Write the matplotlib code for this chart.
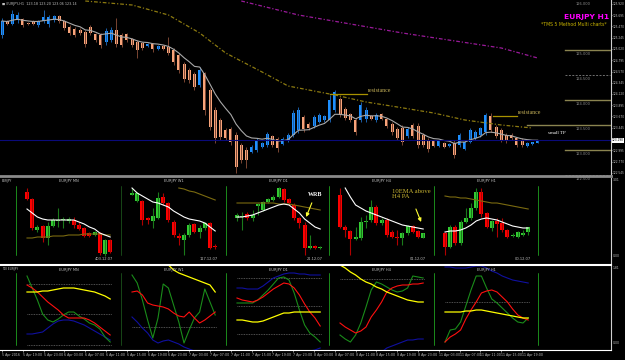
import numpy as np
import pandas as pd
import matplotlib
matplotlib.use("Agg")
import matplotlib.pyplot as plt

W, H = 625, 360

# ---------------- main EURJPY H1 chart ----------------
opens = [125.30, 125.58, 125.52, 125.60, 125.62, 125.54, 125.58, 125.50, 125.58, 125.52,
         125.60, 125.68, 125.58, 125.46, 125.42, 125.40, 125.36, 125.46, 125.32, 125.30,
         125.16, 125.20, 125.40, 125.30, 125.32, 125.22, 125.16, 125.14, 125.08, 125.12,
         125.02, 125.08, 125.06, 125.00, 124.90, 124.72, 124.60, 124.52, 124.30, 124.54,
         124.20, 123.80, 123.60, 123.40, 123.42, 123.30, 123.10, 123.00, 122.96, 123.00,
         123.06, 123.10, 123.28, 123.22, 123.12, 123.20, 123.30, 123.40, 123.66, 123.52,
         123.48, 123.56, 123.60, 123.60, 123.80, 124.02, 123.82, 123.72, 123.60, 123.60,
         123.62, 123.68, 123.60, 123.72, 123.62, 123.52, 123.42, 123.44, 123.28, 123.50,
         123.48, 123.30, 123.20, 123.18, 123.08, 123.14, 123.08, 123.14, 123.10, 123.02,
         123.16, 123.24, 123.30, 123.36, 123.68, 123.46, 123.40, 123.30, 123.30, 123.24,
         123.20, 123.08, 123.11, 123.14]
highs = [125.64, 125.60, 125.80, 125.76, 125.64, 125.56, 125.60, 125.60, 125.80, 125.70,
         125.70, 125.70, 125.60, 125.50, 125.46, 125.44, 125.40, 125.50, 125.34, 125.34,
         125.44, 125.46, 125.64, 125.34, 125.34, 125.24, 125.20, 125.16, 125.14, 125.14,
         125.10, 125.10, 125.26, 125.04, 124.94, 124.76, 124.64, 124.56, 124.66, 124.56,
         124.24, 123.86, 123.64, 123.44, 123.46, 123.36, 123.14, 123.06, 123.10, 123.24,
         123.16, 123.36, 123.30, 123.26, 123.26, 123.34, 123.80, 123.86, 123.70, 123.56,
         123.70, 123.74, 123.70, 124.10, 124.20, 124.06, 123.86, 123.74, 123.64, 123.96,
         123.86, 123.70, 123.74, 123.74, 123.64, 123.56, 123.46, 123.50, 123.46, 123.54,
         123.54, 123.34, 123.24, 123.20, 123.20, 123.16, 123.14, 123.20, 123.34, 123.20,
         123.44, 123.40, 123.46, 123.74, 123.74, 123.50, 123.44, 123.34, 123.34, 123.26,
         123.24, 123.16, 123.16, 123.20]
lows = [125.24, 125.50, 125.50, 125.54, 125.46, 125.50, 125.50, 125.46, 125.54, 125.46,
        125.56, 125.54, 125.40, 125.30, 125.26, 125.30, 125.06, 125.30, 125.16, 125.04,
        125.10, 125.16, 125.06, 125.06, 125.16, 125.06, 124.84, 125.00, 125.06, 124.96,
        125.00, 125.00, 124.90, 124.70, 124.54, 124.36, 124.34, 124.20, 124.26, 123.70,
        123.40, 123.14, 123.20, 123.20, 123.10, 122.54, 122.74, 122.64, 122.94, 122.96,
        123.04, 123.06, 123.06, 122.96, 123.10, 123.16, 123.26, 123.34, 123.36, 123.40,
        123.44, 123.54, 123.56, 123.56, 123.76, 123.66, 123.60, 123.56, 123.30, 123.56,
        123.56, 123.60, 123.56, 123.60, 123.44, 123.30, 123.20, 123.10, 123.24, 123.24,
        123.04, 123.06, 122.96, 123.06, 123.06, 123.04, 123.06, 122.84, 123.06, 123.00,
        123.14, 123.20, 123.26, 123.30, 123.36, 123.24, 123.16, 123.14, 123.20, 123.06,
        123.06, 123.06, 123.10, 123.14]
closes = [125.58, 125.52, 125.72, 125.70, 125.50, 125.52, 125.52, 125.58, 125.66, 125.66,
          125.68, 125.58, 125.44, 125.34, 125.30, 125.34, 125.12, 125.34, 125.20, 125.10,
          125.38, 125.40, 125.12, 125.10, 125.20, 125.10, 125.00, 125.04, 125.12, 125.02,
          125.08, 125.02, 124.94, 124.76, 124.60, 124.42, 124.40, 124.26, 124.60, 123.80,
          123.46, 123.24, 123.26, 123.24, 123.16, 122.66, 122.80, 122.80, 123.06, 123.20,
          123.14, 123.32, 123.10, 123.04, 123.22, 123.30, 123.74, 123.80, 123.42, 123.44,
          123.66, 123.70, 123.68, 124.00, 124.16, 123.70, 123.64, 123.60, 123.36, 123.90,
          123.80, 123.62, 123.70, 123.62, 123.48, 123.36, 123.24, 123.16, 123.42, 123.28,
          123.10, 123.10, 123.02, 123.08, 123.18, 123.06, 123.12, 122.90, 123.30, 123.16,
          123.40, 123.36, 123.44, 123.70, 123.40, 123.28, 123.20, 123.18, 123.24, 123.10,
          123.10, 123.14, 123.15, 123.19]

ema50_x = [16, 25, 32, 38, 43, 50, 55, 64, 70, 76, 83, 89, 96, 102]
ema50_y = [125.98, 125.90, 125.70, 125.34, 124.94, 124.56, 124.28, 124.10, 123.96,
           123.86, 123.74, 123.60, 123.50, 123.44]
ema200_x = [46, 57, 77, 96, 103]
ema200_y = [125.98, 125.70, 125.34, 125.04, 124.84]

level_prices = [126.0, 125.0, 124.5, 124.0, 123.5, 123.0, 122.5]
level_solid = [None, True, False, True, True, True, False]
price_ticks = [125.920, 125.695, 125.470, 125.245, 125.020, 124.795, 124.570, 124.345,
               124.120, 123.895, 123.670, 123.445, 122.995, 122.770, 122.545]
time_labels = ["5 Apr 2016", "5 Apr 19:00", "5 Apr 23:00", "6 Apr 03:00", "6 Apr 07:00",
               "6 Apr 11:00", "6 Apr 15:00", "6 Apr 19:00", "6 Apr 23:00", "7 Apr 03:00",
               "7 Apr 07:00", "7 Apr 11:00", "7 Apr 15:00", "7 Apr 19:00", "7 Apr 23:00",
               "8 Apr 03:00", "8 Apr 07:00", "8 Apr 11:00", "8 Apr 15:00", "8 Apr 19:00",
               "8 Apr 23:00", "11 Apr 03:00", "11 Apr 07:00", "11 Apr 11:00", "11 Apr 15:00",
               "11 Apr 19:00"]

# ---------------- multi timeframe candles (o, h, l, c) ----------------
tf_names = ["EURJPY MN", "EURJPY W1", "EURJPY D1", "EURJPY H4", "EURJPY H1"]
tf_dates = ["403.12.07", "117.12.07", "21.12.07", "01.12.07", "00.12.07"]
mn_candles = [(73, 77, 65, 66), (66, 67, 35, 37), (35, 40, 33, 38), (39, 40, 23, 27), (27, 43, 20, 39),
              (39, 47, 38, 45), (44, 57, 38, 45), (45, 48, 37, 45), (44, 48, 42, 46), (45, 48, 37, 40),
              (40, 43, 35, 36), (37, 38, 28, 29), (32, 33, 28, 29), (30, 34, 29, 33), (32, 33, 10, 12),
              (11, 26, 9, 25), (25, 26, 12, 13)]
w1_candles = [(70, 77, 70, 72), (64, 73, 63, 72), (64, 65, 40, 45), (47, 48, 41, 45), (44, 57, 37, 49),
              (47, 73, 46, 67), (68, 72, 60, 62), (62, 63, 43, 45), (43, 45, 28, 30), (29, 32, 20, 27),
              (25, 32, 10, 30), (30, 42, 28, 40), (41, 42, 32, 33), (33, 40, 27, 37), (37, 43, 35, 42),
              (42, 43, 16, 17), (19, 21, 16, 18)]
d1_candles = [(47, 52, 44, 50), (48, 53, 35, 49), (51, 53, 45, 47), (47, 55, 44, 50), (59, 62, 50, 61),
              (55, 64, 54, 63), (63, 67, 62, 66), (65, 70, 64, 68), (68, 78, 67, 77), (76, 77, 63, 65),
              (66, 67, 60, 62), (60, 62, 45, 47), (47, 48, 37, 42), (40, 43, 10, 17), (17, 30, 16, 19),
              (19, 20, 16, 17), (17, 19, 16, 18)]
h4_candles = [(70, 77, 37, 38), (38, 40, 28, 35), (34, 35, 10, 26), (26, 38, 25, 28), (27, 48, 25, 43),
              (43, 50, 37, 44), (45, 65, 43, 58), (58, 60, 40, 42), (42, 47, 40, 45), (45, 47, 28, 30),
              (33, 35, 27, 28), (28, 35, 20, 27), (27, 33, 20, 32), (32, 40, 30, 39), (39, 40, 32, 33),
              (34, 35, 27, 28), (27, 32, 27, 32)]
h1_candles = [(32, 33, 10, 18), (18, 40, 17, 38), (38, 40, 20, 22), (22, 45, 20, 43), (43, 57, 42, 47),
              (47, 62, 45, 57), (57, 77, 55, 73), (73, 77, 48, 51), (52, 53, 37, 38), (37, 45, 34, 44),
              (44, 47, 28, 41), (42, 47, 33, 35), (35, 36, 27, 28), (29, 32, 28, 30), (28, 34, 27, 33),
              (30, 35, 29, 32), (33, 38, 30, 38)]
nan = np.nan
mn_ema = [56, 52, 48, 46, 45, 45, 45, 45, 45, 45, 43, 41, 38, 36, 32, 30, 28]
w1_ema = [77, 72, 69, 66, 63, 62, 60, 58, 54, 51, 48, 46, 45, 44, 42, 38, 34]
d1_ema = [48, 48, 49, 50, 52, 54, 56, 58, 60, 61, 60, 56, 52, 46, 42, 38, 36]
h4_ema = [nan, 77, 68, 60, 57, 54, 52, 50, 48, 46, 44, 42, 40, 39, 38, 37, 36]
h1_ema = [33, 34, 34, 35, 37, 40, 44, 46, 47, 46, 45, 43, 41, 39, 38, 37, 37]
mn_slow = [27, 27, 28, 28, 28, 29, 29, 29, 30, 30, 30, 31, 31, 31, 31, 30, 30]
w1_slow = [nan] * 9 + [77, 76, 74, 73, 71, 69, 67, 65]
d1_slow = [62, 62, 62, 62, 62, 62, 62, 62, 61, 61, 61, 60, 59, 58, 57, 56, 55]
h4_slow = [nan] * 17
h1_slow = [69, 68, 68, 67, 67, 66, 65, 64, 63, 62, 62, 61, 60, 59, 58, 57, 56]

# ---------------- TDI per timeframe ----------------
mn_yellow = [58, 58, 58, 59, 59, 60, 61, 62, 62, 62, 61, 60, 59, 58, 56, 54, 51]
mn_red = [65, 62, 58, 53, 48, 44, 40, 35, 32, 32, 32, 32, 30, 27, 23, 19, 15]
mn_green = [74, 62, 50, 36, 30, 28, 31, 35, 38, 38, 34, 31, 27, 25, 21, 13, 8]
mn_blue = [16, 16, 17, 18, 22, 26, 29, 30, 30, 29, 27, 25, 22, 19, 16, 13, 10]
w1_yellow = [nan] * 7 + [85, 80, 77, 75, 73, 71, 69, 67, 65, 58]
w1_red = [58, 59, 55, 47, 45, 44, 43, 41, 37, 34, 33, 38, 32, 27, 30, 34, 38]
w1_green = [75, 67, 50, 30, 12, 32, 66, 62, 45, 28, 7, 20, 32, 38, 61, 48, 35]
w1_blue = [33, 28, 22, 17, 10, 7, 9, 10, 8, 6, 3, 1, -1, -2, -3, -4, -5]
d1_yellow = [30, 30, 29, 28, 28, 29, 31, 33, 35, 37, 37, 38, 38, 38, 38, 38, 38]
d1_red = [52, 50, 49, 48, 50, 53, 57, 61, 64, 67, 66, 62, 55, 46, 38, 32, 24]
d1_green = [47, 47, 47, 47, 50, 55, 60, 66, 72, 73, 70, 57, 40, 25, 17, 13, 8]
d1_blue = [62, 62, 61, 61, 61, 64, 68, 72, 74, 76, 77, 77, 76, 76, 75, 75, 75]
d1_blue_low = [nan] * 9 + [-7, -6, -5, -3, -2, -1, 0, 2]
h4_yellow = [85, 82, 78, 75, 71, 68, 66, 63, 61, 58, 56, 54, 52, 50, 49, 48, 48]
h4_red = [27, 23, 20, 17, 19, 23, 33, 40, 48, 58, 62, 64, 65, 65, 66, 66, 67]
h4_green = [15, 11, 8, 15, 27, 43, 60, 68, 66, 63, 60, 58, 59, 62, 74, 73, 72]
h4_blue = [nan] * 8 + [-2, 2, 4, 6, 8, 10, 10, 11, 11]
h1_yellow = [38, 38, 38, 38, 39, 39, 40, 40, 39, 38, 37, 36, 35, 34, 33, 32, 32]
h1_red = [8, 13, 16, 20, 31, 40, 48, 57, 59, 60, 58, 53, 48, 41, 35, 32, 30]
h1_green = [8, 20, 21, 28, 44, 60, 74, 74, 62, 51, 47, 42, 37, 32, 28, 27, 32]
h1_blue = [83, 83, 82, 82, 82, 83, 84, 84, 82, 79, 77, 74, 72, 70, 69, 68, 67]
mn_levels = [66, 36, 5]
w1_levels = [23]
d1_levels = [72, 44, 16]
h4_levels = [71]
h1_levels = [48]

GRAY = '#c0c0c0'
fig = plt.figure(figsize=(W / 100, H / 100), dpi=100, facecolor='black')


def box(x0, y0, x1, y1):
    a = fig.add_axes([x0 / W, 1 - y1 / H, (x1 - x0) / W, (y1 - y0) / H])
    a.set_facecolor('none')
    for s in a.spines.values():
        s.set_visible(False)
    a.set_xticks([])
    a.set_yticks([])
    return a


def ftext(x, y, s, **kw):
    kw.setdefault('color', GRAY)
    kw.setdefault('fontsize', 2.4)
    kw.setdefault('va', 'center')
    fig.text(x / W, 1 - y / H, s, **kw)


# ---- main panel
ax = box(0, 0, 611, 176)
ax.set_xlim(-0.4, 117.1)
ax.set_ylim(122.48, 126.0)
o, h, l, c = (np.array(v) for v in (opens, highs, lows, closes))
idx = np.arange(len(c))
up = c >= o
ax.vlines(idx, l, h, colors=np.where(up, '#1a5ea8', '#7a4632'), lw=0.7)
ax.bar(idx, np.maximum(np.abs(c - o), 0.012), bottom=np.minimum(o, c), width=0.55,
       color=np.where(up, '#1e90ff', '#f8a47a'), lw=0)
ema10 = pd.Series(closes).ewm(span=10, adjust=False).mean()
ax.plot(idx, ema10, color='#a8a8a8', lw=0.8)
ax.plot(ema50_x, ema50_y, color='#8c7a10', lw=0.9, ls=(0, (3, 1.5, 1, 1.5)))
ax.plot(ema200_x, ema200_y, color='#9a1a9a', lw=0.9, ls=(0, (3, 1.5, 1, 1.5)))
ax.axhline(c[-1], color='#0a0a7a', lw=0.8)

for p, solid in zip(level_prices, level_solid):
    if solid is not None:
        x0 = 101 if p == 123.5 else 108.3
        ax.plot([x0, 117.0], [p, p], color='#8a8450' if solid else '#707070',
                lw=1.0 if solid else 0.7, ls='-' if solid else (0, (2, 1.5)))
    ax.text(111.7, p - 0.04, f"{p:.3f}", color='#8a8a8a', fontsize=2.6, ha='center', va='top')

ax.yaxis.tick_right()
ax.set_yticks(price_ticks)
ax.set_yticklabels([f"{t:.3f}" for t in price_ticks])
ax.tick_params(axis='y', colors=GRAY, labelsize=2.1, length=1.0, width=0.5, pad=0.3)
ax.spines['right'].set_visible(True)
ax.spines['right'].set_color('#d0d0d0')
ax.spines['bottom'].set_visible(True)
ax.spines['bottom'].set_color('#8a8a8a')
ax.spines['bottom'].set_linewidth(2)
ax.text(1.0015, c[-1], f"{c[-1]:.3f}", transform=ax.get_yaxis_transform(), fontsize=2.1,
        color='black', va='center', ha='left',
        bbox=dict(boxstyle='square,pad=0.1', fc='white', ec='none'))

ax.text(0.004, 0.978, "\u25a0 EURJPY,H1  123.18 123.20 123.06 123.14", transform=ax.transAxes,
        color=GRAY, fontsize=2.4, va='center')
ax.text(609 / 611, 1 - 17 / 176, "EURJPY H1", transform=ax.transAxes, color='#ff00ff',
        fontsize=5.4, fontweight='bold', ha='right', va='center')
ax.text(607 / 611, 1 - 25 / 176, "*TMS 5 Method Multi charts*", transform=ax.transAxes,
        color='#c8b400', fontsize=3.3, ha='right', va='center')

serif = 'Liberation Serif'
ax.plot([63, 70.2], [124.12, 124.12], color='#a89200', lw=0.9)
ax.text(70.4, 124.14, "resistance", color='#c8b45a', fontsize=4.2, family=serif, va='bottom')
ax.plot([94.4, 99.0], [123.68, 123.68], color='#a89200', lw=0.9)
ax.text(99.2, 123.70, "resistance", color='#c8b45a', fontsize=4.2, family=serif, va='bottom')
ax.text(105.0, 123.34, "small TP", color='white', fontsize=3.6, family=serif, va='center')

# ---- middle panel (multi timeframe candles)
mid = box(0, 178, 611, 265)
mid.spines['right'].set_visible(True)
mid.spines['right'].set_color('#d0d0d0')
mid.spines['bottom'].set_visible(True)
mid.spines['bottom'].set_color('white')
mid.spines['bottom'].set_linewidth(1.5)
ftext(2, 181, "EURJPY", fontsize=2.2)
ftext(613, 180, "3.01", fontsize=2.2)
ftext(613, 256, "0.00", fontsize=2.2)

sub_x0 = [16, 121, 226, 329, 434]
div_colors = ['#22b022', '#1d5a1d', '#22b022', '#22b022', '#22b022']
XL = (-11 / 5.2, 94 / 5.2)
candle_sets = [mn_candles, w1_candles, d1_candles, h4_candles, h1_candles]
ema_sets = [mn_ema, w1_ema, d1_ema, h4_ema, h1_ema]
slow_sets = [mn_slow, w1_slow, d1_slow, h4_slow, h1_slow]
mids = []
for k, x0 in enumerate(sub_x0):
    a = box(x0, 178, x0 + 105, 265)
    a.set_xlim(*XL)
    a.set_ylim(0, 87)
    a.axvline(XL[0], 0.115, 0.897, color=div_colors[k], lw=1.1)
    if k == 4:
        a.axvline(XL[1], 0.115, 0.897, color='#22b022', lw=1.1)
    arr = np.array(candle_sets[k], dtype=float)
    co, ch, cl, cc = arr.T
    cx = np.arange(len(arr))
    cu = cc >= co
    a.vlines(cx, cl, ch, colors=np.where(cu, '#1a7a1a', '#b00000'), lw=0.8)
    a.bar(cx, np.maximum(np.abs(cc - co), 0.8), bottom=np.minimum(co, cc), width=0.75,
          color=np.where(cu, '#33cc33', '#ff0000'), lw=0)
    a.plot(cx, slow_sets[k], color='#7a6a10', lw=0.8)
    a.plot(cx, ema_sets[k], color='white', lw=0.8)
    a.text(8, 84, tf_names[k], color=GRAY, fontsize=2.6, ha='center', va='center')
    a.text(16.5, 5.5, tf_dates[k], color=GRAY, fontsize=2.6, ha='right', va='center')
    mids.append(a)

mids[2].annotate("WRB", xy=(13.3, 48), xytext=(15.0, 70), color='white', fontsize=4.3,
                 family=serif, fontweight='bold', ha='center', va='center',
                 arrowprops=dict(arrowstyle='-|>', color='#ffff33', lw=0.8, mutation_scale=5,
                                 shrinkA=2, shrinkB=0))
mids[3].text(10, 76, "10EMA above\nH4 PA", color='#c8b432', fontsize=4.8, family=serif,
             ha='left', va='top', linespacing=0.95)
mids[3].annotate("", xy=(15.6, 43), xytext=(14.6, 56),
                 arrowprops=dict(arrowstyle='-|>', color='#ffff33', lw=0.8, mutation_scale=5,
                                 shrinkA=0, shrinkB=0))

# ---- bottom panel (TDI)
bot = box(0, 266, 611, 350)
bot.set_xlim(-0.4, 117.1)
bot.spines['right'].set_visible(True)
bot.spines['right'].set_color('#d0d0d0')
bot.spines['bottom'].set_visible(True)
bot.spines['bottom'].set_color('white')
bot.set_xticks(np.arange(len(time_labels)) * 4)
bot.set_xticklabels(time_labels)
bot.tick_params(axis='x', colors=GRAY, labelsize=2.3, length=1.5, width=0.5, pad=1)
for lbl in bot.get_xticklabels():
    lbl.set_ha('left')
ftext(2, 269, "TDI EURJPY", fontsize=2.2)
ftext(613, 268, "1.81", fontsize=2.2)
ftext(613, 343, "0.00", fontsize=2.2)

yellow_sets = [mn_yellow, w1_yellow, d1_yellow, h4_yellow, h1_yellow]
red_sets = [mn_red, w1_red, d1_red, h4_red, h1_red]
green_sets = [mn_green, w1_green, d1_green, h4_green, h1_green]
blue_sets = [mn_blue, w1_blue, d1_blue, h4_blue, h1_blue]
level_sets = [mn_levels, w1_levels, d1_levels, h4_levels, h1_levels]
for k, x0 in enumerate(sub_x0):
    a = box(x0, 266, x0 + 105, 350)
    a.set_xlim(*XL)
    a.set_ylim(0, 84)
    a.axvline(XL[0], 0.06, 0.9, color=div_colors[k], lw=1.1)
    if k == 4:
        a.axvline(XL[1], 0.06, 0.9, color='#22b022', lw=1.1)
    tx = np.arange(17)
    for lv in level_sets[k]:
        a.plot([0, 16.3], [lv, lv], color='#6a6a6a', lw=0.6, ls=(0, (1, 1)))
    a.plot(tx, blue_sets[k], color='#1010a0', lw=0.8)
    if k == 2:
        a.plot(tx, d1_blue_low, color='#1010a0', lw=0.8)
    a.plot(tx, green_sets[k], color='#1a8c1a', lw=0.8)
    a.plot(tx, red_sets[k], color='#ff1010', lw=0.8)
    a.plot(tx, yellow_sets[k], color='#ffff00', lw=0.9)
    a.text(8, 80, tf_names[k], color=GRAY, fontsize=2.6, ha='center', va='center')

fig.savefig("out.png", dpi=100, facecolor='black')
